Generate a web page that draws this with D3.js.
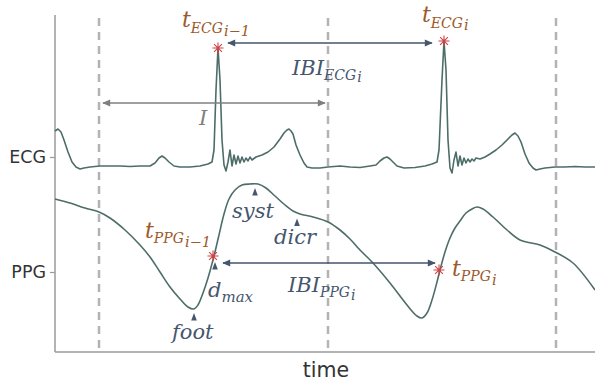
<!DOCTYPE html>
<html>
<head>
<meta charset="utf-8">
<script src="https://cdn.jsdelivr.net/npm/d3@7"></script>
<style>
  html, body { margin: 0; padding: 0; background: #ffffff; }
  svg { display: block; }
</style>
</head>
<body>
<script>
// ---------------- data ----------------
// time in ms
const ecgTime = [0,12,24,36,52,68,84,100,116,140,180,220,260,300,340,380,400,416,428,440,456,476,500,540,580,612,628,636,644,652,660,668,676,684,692,700,708,716,724,732,740,748,756,764,772,780,788,804,828,852,876,900,916,928,936,944,952,964,980,996,1008,1028,1060,1092,1140,1180,1220,1260,1284,1300,1316,1328,1340,1352,1368,1396,1440,1480,1508,1528,1536,1548,1556,1564,1572,1580,1588,1596,1604,1612,1620,1628,1636,1644,1652,1660,1668,1676,1684,1700,1720,1740,1764,1788,1812,1828,1840,1852,1864,1880,1896,1912,1924,1940,1960,2000,2040,2080,2120,2160];
// ECG amplitude (mV)
const ecgValue = [0.36,0.38,0.35,0.27,0.15,0.05,0.00,-0.02,-0.01,0.00,0.01,0.01,0.01,0.005,0.01,0.01,0.04,0.09,0.11,0.09,0.05,0.01,0.00,0.00,0.01,0.03,0.05,0.17,0.77,1.19,0.87,0.27,0.02,-0.04,0.05,0.17,0.01,0.12,0.03,0.11,0.04,0.10,0.05,0.09,0.06,0.10,0.07,0.10,0.12,0.15,0.20,0.28,0.34,0.37,0.38,0.36,0.33,0.22,0.12,0.04,0.00,-0.01,-0.01,0.00,0.01,0.00,-0.005,0.01,0.02,0.06,0.09,0.10,0.08,0.05,0.01,-0.01,-0.005,0.01,0.03,0.05,0.17,0.87,1.26,0.97,0.27,-0.01,-0.06,0.07,0.15,0.01,0.11,0.02,0.09,0.04,0.08,0.05,0.08,0.06,0.09,0.08,0.10,0.13,0.17,0.22,0.28,0.32,0.34,0.31,0.25,0.13,0.04,-0.01,-0.03,-0.02,-0.01,0.00,0.00,0.005,0.00,0.00];

const ppgTime = [0,60,120,176,220,280,340,380,420,460,500,532,556,572,592,612,636,656,676,696,720,748,780,812,844,880,920,952,980,1032,1092,1140,1180,1220,1272,1340,1408,1448,1468,1488,1508,1528,1540,1560,1580,1600,1620,1644,1668,1688,1712,1752,1808,1860,1940,2000,2072,2160];
// PPG amplitude (a.u.)
const ppgValue = [1.19,1.15,1.10,1.06,1.00,0.88,0.73,0.61,0.46,0.31,0.19,0.11,0.09,0.13,0.25,0.40,0.62,0.83,1.04,1.19,1.28,1.33,1.34,1.34,1.30,1.22,1.13,1.07,1.04,1.01,0.96,0.88,0.79,0.68,0.55,0.35,0.13,0.02,0.00,0.05,0.18,0.36,0.48,0.66,0.80,0.90,0.97,1.05,1.09,1.11,1.09,1.01,0.88,0.78,0.73,0.66,0.55,0.28];

const windowEdges = [176, 1092, 2004];          // dashed window boundaries (ms)
const ecgBeatTimes = [652, 1556];               // R peaks
const ecgBeatValues = [1.19, 1.26];
const ppgBeatTimes = [636, 1540];               // max-derivative points
const ppgBeatValues = [0.62, 0.48];
const featureNames = ["foot", "d", "syst", "dicr"];
const featureTimes = [556, 640, 800, 968];
const featureValues = [0.09, 0.62, 1.34, 1.05];
const yTickLabels = ["ECG", "PPG"];
const xLabel = "time";

// ---------------- layout ----------------
const W = 595, H = 381;
const mLeft = 55, mRight = 595, mTop = 15, mBottom = 352;

const x = d3.scaleLinear().domain([0, 2160]).range([mLeft, mRight]);
const yE = d3.scaleLinear().domain([0, 1]).range([167, 67]);
const yP = d3.scaleLinear().domain([0, 1]).range([318, 218]);
const yCat = d3.scalePoint().domain(yTickLabels).range([157, 272]);

const cTrace = "#4e6d69", cBrown = "#9c5a2b", cSlate = "#46566e",
      cGray = "#7f7f7f", cRed = "#cc4444", cDash = "#b3b3b3", cAxis = "#9a9a9a";
const serif = "'DejaVu Serif', serif";

const svg = d3.select("body").append("svg").attr("width", W).attr("height", H);
svg.append("rect").attr("width", W).attr("height", H).attr("fill", "#fff");

const defs = svg.append("defs");
function arrowMarker(id, color) {
  defs.append("marker").attr("id", id)
    .attr("viewBox", "0 0 10 10").attr("refX", 9).attr("refY", 5)
    .attr("markerUnits", "userSpaceOnUse")
    .attr("markerWidth", 9).attr("markerHeight", 8)
    .attr("orient", "auto-start-reverse")
    .append("path").attr("d", "M0,0.5 L10,5 L0,9.5 Z").attr("fill", color);
}
arrowMarker("ahSlate", cSlate);
arrowMarker("ahGray", cGray);

// dashed window lines
svg.selectAll(".win").data(windowEdges).enter().append("line")
  .attr("x1", d => x(d)).attr("x2", d => x(d))
  .attr("y1", mTop + 3).attr("y2", mBottom)
  .attr("stroke", cDash).attr("stroke-width", 2.5)
  .attr("stroke-dasharray", "8,6");

// axes
const yAxis = d3.axisLeft(yCat).tickSize(5).tickPadding(4);
const gy = svg.append("g").attr("transform", `translate(${mLeft},0)`).call(yAxis);
gy.select(".domain").remove();
gy.selectAll(".tick line").attr("stroke", cAxis).attr("stroke-width", 1.2);
gy.selectAll(".tick text").attr("font-family", "'DejaVu Sans', sans-serif")
  .attr("font-size", 17.5).attr("fill", "#333");
svg.append("line").attr("x1", mLeft).attr("x2", mLeft).attr("y1", mTop).attr("y2", mBottom)
  .attr("stroke", cAxis).attr("stroke-width", 1.5);
svg.append("line").attr("x1", mLeft).attr("x2", mRight).attr("y1", mBottom).attr("y2", mBottom)
  .attr("stroke", cAxis).attr("stroke-width", 1.5);
svg.append("text").attr("x", 326).attr("y", 377).attr("text-anchor", "middle")
  .attr("font-family", "'DejaVu Sans', sans-serif").attr("font-size", 20.5)
  .attr("fill", "#333").text(xLabel);

// traces
const ecgData = ecgTime.map((t, i) => [t, ecgValue[i]]);
const ppgData = ppgTime.map((t, i) => [t, ppgValue[i]]);
svg.append("path").datum(ecgData)
  .attr("d", d3.line().x(d => x(d[0])).y(d => yE(d[1])))
  .attr("fill", "none").attr("stroke", cTrace).attr("stroke-width", 1.6)
  .attr("stroke-linejoin", "round");
svg.append("path").datum(ppgData)
  .attr("d", d3.line().curve(d3.curveCatmullRom.alpha(0.5)).x(d => x(d[0])).y(d => yP(d[1])))
  .attr("fill", "none").attr("stroke", cTrace).attr("stroke-width", 1.6);

// arrows
function arrow(x1, x2, y, color, marker) {
  svg.append("line").attr("x1", x1).attr("x2", x2).attr("y1", y).attr("y2", y)
    .attr("stroke", color).attr("stroke-width", 1.6)
    .attr("marker-start", `url(#${marker})`).attr("marker-end", `url(#${marker})`);
}
arrow(x(windowEdges[0]) + 4, x(windowEdges[1]) - 3, yE(0.64), cGray, "ahGray");
arrow(x(ecgBeatTimes[0]) + 10, x(ecgBeatTimes[1]) - 12, yE(1.24), cSlate, "ahSlate");
arrow(x(ppgBeatTimes[0]) + 9, x(ppgBeatTimes[1]) - 5, yP(0.55), cSlate, "ahSlate");

// feature triangles
featureTimes.forEach((t, i) => {
  const off = [4, 6, 4, 5.5][i];
  const cx = x(t), ty = yP(featureValues[i]) + off;
  svg.append("path").attr("d", `M${cx},${ty} L${cx + 2.8},${ty + 7.5} L${cx - 2.8},${ty + 7.5} Z`)
    .attr("fill", cSlate);
});

// asterisks
function asterisk(cx, cy) {
  const r = 5.5, d = r * 0.7071;
  svg.append("path")
    .attr("d", `M${cx - r},${cy}L${cx + r},${cy}M${cx},${cy - r}L${cx},${cy + r}` +
               `M${cx - d},${cy - d}L${cx + d},${cy + d}M${cx - d},${cy + d}L${cx + d},${cy - d}`)
    .attr("stroke", cRed).attr("stroke-width", 1.1).attr("fill", "none");
}
ecgBeatTimes.forEach((t, i) => asterisk(x(t), yE(ecgBeatValues[i])));
ppgBeatTimes.forEach((t, i) => asterisk(x(t) - 1, yP(ppgBeatValues[i])));

// labels with sub/sub-sub scripts
function label(px, py, color, parts) {
  const txt = svg.append("text").attr("x", px).attr("y", py)
    .attr("font-family", serif).attr("font-style", "italic").attr("fill", color);
  parts.forEach(p => {
    txt.append("tspan").attr("font-size", p[1]).attr("dy", p[2] || 0).attr("dx", p[3] || 0).text(p[0]);
  });
}
// ECG beat labels
label(x(ecgBeatTimes[0]) - 36, yE(ecgBeatValues[0]) - 21, cBrown,
  [["t", 22], ["ECG", 14, 6], ["i\u22121", 14.5, 3, 1]]);
label(x(ecgBeatTimes[1]) - 22, yE(ecgBeatValues[1]) - 19, cBrown,
  [["t", 22], ["ECG", 14, 6], ["i", 14.5, 2, 1]]);
label(292, yE(1.24) + 32, cSlate, [["IBI", 21], ["ECG", 14, 5], ["i", 14, 2, 1]]);
label(199, yE(0.64) + 22, cGray, [["I", 21]]);
// PPG beat labels
label(x(ppgBeatTimes[0]) - 69, yP(ppgBeatValues[0]) - 18, cBrown,
  [["t", 22], ["PPG", 14, 5], ["i\u22121", 14.5, 4, 1]]);
label(x(ppgBeatTimes[1]) + 12, yP(ppgBeatValues[1]) + 6, cBrown,
  [["t", 22], ["PPG", 14, 5], ["i", 14.5, 4, 1]]);
label(288, yP(0.55) + 29, cSlate, [["IBI", 21], ["PPG", 14, 5], ["i", 14, 3, 1]]);
// feature labels
label(x(featureTimes[0]) - 22, 339, cSlate, [["foot", 21]]);
label(x(featureTimes[1]) - 7, 297, cSlate, [["d", 21], ["max", 15, 5]]);
label(x(featureTimes[2]) - 23, 218, cSlate, [["syst", 21]]);
label(x(featureTimes[3]) - 23, 244, cSlate, [["dicr", 21]]);
</script>
</body>
</html>
